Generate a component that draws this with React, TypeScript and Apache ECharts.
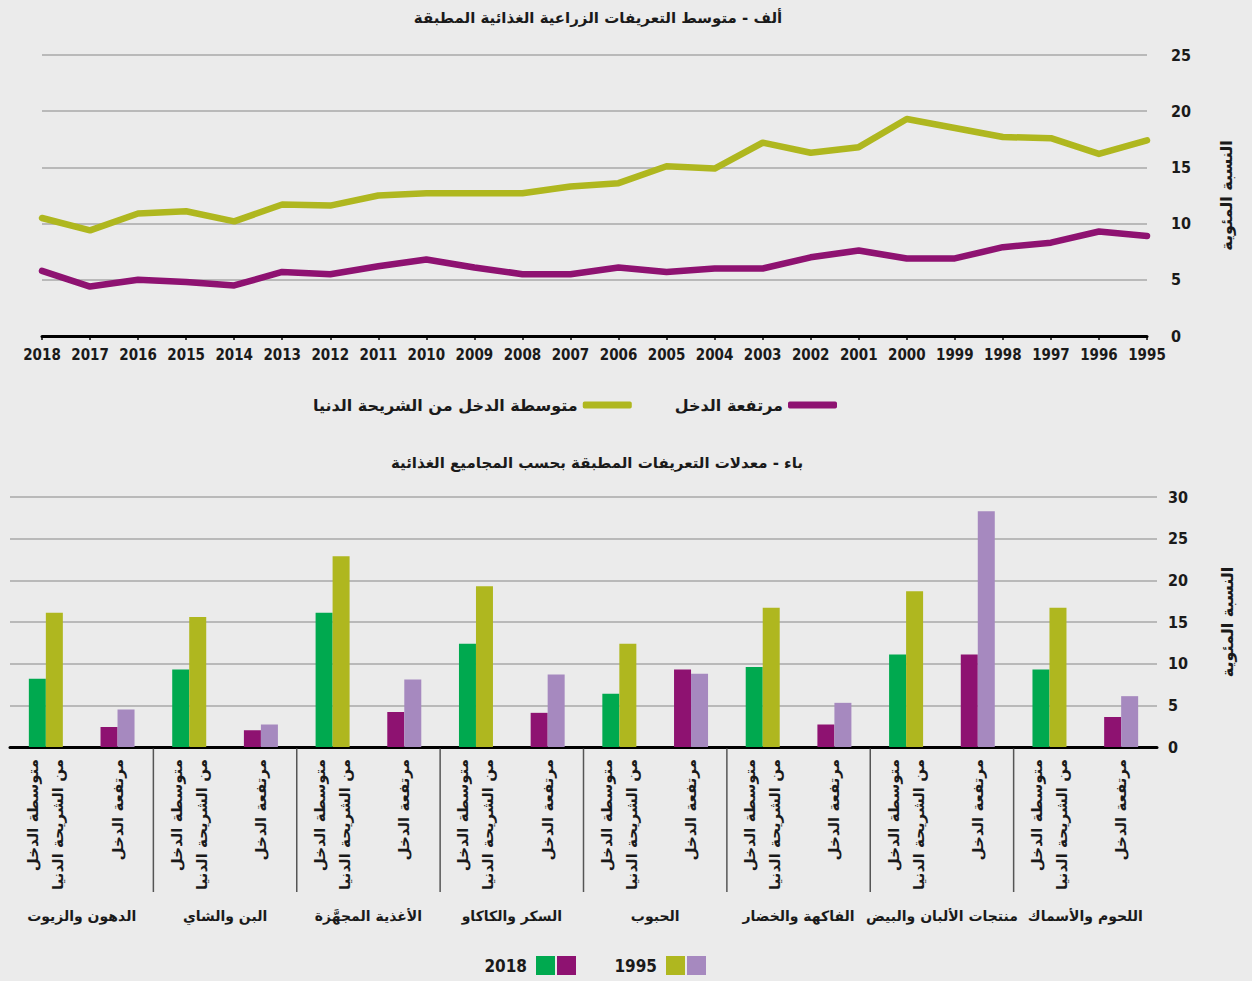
import React, { useEffect, useRef } from 'react';
import * as echarts from 'echarts';

// ---------- Data ----------
const years = ['2018', '2017', '2016', '2015', '2014', '2013', '2012', '2011', '2010', '2009', '2008', '2007', '2006', '2005', '2004', '2003', '2002', '2001', '2000', '1999', '1998', '1997', '1996', '1995'];
const lowerMiddleTariff = [10.5, 9.4, 10.9, 11.1, 10.2, 11.7, 11.6, 12.5, 12.7, 12.7, 12.7, 13.3, 13.6, 15.1, 14.9, 17.2, 16.3, 16.8, 19.3, 18.5, 17.7, 17.6, 16.2, 17.4];
const highTariff = [5.8, 4.4, 5.0, 4.8, 4.5, 5.7, 5.5, 6.2, 6.8, 6.1, 5.5, 5.5, 6.1, 5.7, 6.0, 6.0, 7.0, 7.6, 6.9, 6.9, 7.9, 8.3, 9.3, 8.9];
const lineSeriesNames = ['متوسطة الدخل من الشريحة الدنيا', 'مرتفعة الدخل'];
const lineColors = ['#afb71f', '#8e1271'];

const titleA = 'ألف - متوسط التعريفات الزراعية الغذائية المطبقة';
const titleB = 'باء - معدلات التعريفات المطبقة بحسب المجاميع الغذائية';
const yAxisName = 'النسبة المئوية';

const foodGroups = ['الدهون والزيوت', 'البن والشاي', 'الأغذية المجهَّزة', 'السكر والكاكاو', 'الحبوب', 'الفاكهة والخضار', 'منتجات الألبان والبيض', 'اللحوم والأسماك'];
const incomeLabels = ['متوسطة الدخل\nمن الشريحة الدنيا', 'مرتفعة الدخل'];
const lowerMiddle2018 = [8.2, 9.3, 16.1, 12.4, 6.4, 9.6, 11.1, 9.3];
const lowerMiddle1995 = [16.1, 15.6, 22.9, 19.3, 12.4, 16.7, 18.7, 16.7];
const high2018 = [2.4, 2.0, 4.2, 4.1, 9.3, 2.7, 11.1, 3.6];
const high1995 = [4.5, 2.7, 8.1, 8.7, 8.8, 5.3, 28.3, 6.1];
const barYears = ['2018', '1995'];
const barColors2018 = ['#00a94f', '#8e1271'];
const barColors1995 = ['#afb71f', '#a689bf'];

const topTicks = { min: 0, max: 25, interval: 5 };
const bottomTicks = { min: 0, max: 30, interval: 5 };

// ---------- Styles ----------
const NUM_FONT = '"Liberation Sans Narrow", "DejaVu Sans Condensed", "Liberation Sans", sans-serif';
const AR_FONT = '"DejaVu Sans", sans-serif';
const TEXT = '#1a1a1a';
const GRID_LINE = '#a9a9a9';

export default function App() {
  const ref = useRef<HTMLDivElement>(null);

  useEffect(() => {
    document.body.style.margin = '0';
    if (!ref.current) return;
    const chart = echarts.init(ref.current, null, { renderer: 'svg' });

    const barCategories: string[] = [];
    const data2018: any[] = [];
    const data1995: any[] = [];
    foodGroups.forEach((g, gi) => {
      incomeLabels.forEach((inc, ii) => {
        barCategories.push(g + ' | ' + inc);
        const v18 = ii === 0 ? lowerMiddle2018[gi] : high2018[gi];
        const v95 = ii === 0 ? lowerMiddle1995[gi] : high1995[gi];
        data2018.push({ value: v18, itemStyle: { color: barColors2018[ii] } });
        data1995.push({ value: v95, itemStyle: { color: barColors1995[ii] } });
      });
    });
    const separatorIdx: number[][] = [];
    for (let gi = 1; gi < foodGroups.length; gi++) separatorIdx.push([gi * incomeLabels.length, 0]);

    const legendGraphics: any[] = [];
    const legendTextRight = [527, 657];
    barYears.forEach((y, i) => {
      const xr = legendTextRight[i];
      legendGraphics.push({
        type: 'text', x: xr, y: 966,
        style: { text: y, align: 'right', verticalAlign: 'middle', fill: TEXT, fontSize: 17, fontWeight: 'bold', fontFamily: NUM_FONT },
      });
      const cols = i === 0 ? barColors2018 : barColors1995;
      cols.forEach((c, k) => {
        legendGraphics.push({ type: 'rect', shape: { x: xr + 9 + k * 21, y: 956, width: 19, height: 19 }, style: { fill: c } });
      });
    });

    const option: any = {
      animation: false,
      backgroundColor: '#ebebeb',
      textStyle: { fontFamily: AR_FONT },
      graphic: [
        { type: 'text', x: 598, y: 18, style: { text: titleA, align: 'center', verticalAlign: 'middle', fill: TEXT, fontSize: 15, fontWeight: 'bold', fontFamily: AR_FONT } },
        { type: 'text', x: 597, y: 463, style: { text: titleB, align: 'center', verticalAlign: 'middle', fill: TEXT, fontSize: 15, fontWeight: 'bold', fontFamily: AR_FONT } },
        ...legendGraphics,
      ],
      legend: {
        right: 410,
        top: 392,
        align: 'right',
        itemWidth: 49,
        itemHeight: 7,
        itemGap: 43,
        icon: 'roundRect',
        data: [lineSeriesNames[0], lineSeriesNames[1]],
        textStyle: { fontSize: 16, fontWeight: 'bold', color: TEXT, fontFamily: AR_FONT },
      },
      grid: [
        { left: 42, right: 105, top: 55, bottom: 645 },
        { left: 10, right: 95, top: 497, bottom: 234 },
      ],
      xAxis: [
        {
          gridIndex: 0, type: 'category', boundaryGap: false, data: years,
          axisLine: { lineStyle: { color: '#000', width: 3 } },
          axisTick: { show: true, length: 4, lineStyle: { color: '#000', width: 1.5 } },
          axisLabel: { margin: 11, fontSize: 15, fontWeight: 'bold', color: TEXT, fontFamily: NUM_FONT, interval: 0 },
        },
        {
          gridIndex: 1, type: 'category', data: barCategories,
          axisLine: { lineStyle: { color: '#000', width: 3 } },
          axisTick: { show: false },
          axisLabel: {
            rotate: 90, interval: 0, margin: 12, fontSize: 15, lineHeight: 25, fontWeight: 'bold', color: TEXT, fontFamily: AR_FONT,
            formatter: (_v: string, i: number) => incomeLabels[i % incomeLabels.length],
          },
        },
        {
          gridIndex: 1, type: 'category', data: foodGroups, position: 'bottom',
          axisLine: { show: false }, axisTick: { show: false },
          axisLabel: { interval: 0, margin: 162, fontSize: 14, fontWeight: 'bold', color: TEXT, fontFamily: AR_FONT },
        },
      ],
      yAxis: [
        {
          gridIndex: 0, type: 'value', position: 'right', ...topTicks,
          axisLine: { show: false }, axisTick: { show: false },
          axisLabel: { margin: 24, fontSize: 16, fontWeight: 'bold', color: TEXT, fontFamily: NUM_FONT },
          splitLine: { lineStyle: { color: GRID_LINE, width: 1.5 } },
          name: yAxisName, nameLocation: 'middle', nameGap: 71, nameRotate: 90,
          nameTextStyle: { fontSize: 16, fontWeight: 'bold', color: TEXT, fontFamily: AR_FONT },
        },
        {
          gridIndex: 1, type: 'value', position: 'right', ...bottomTicks,
          axisLine: { show: false }, axisTick: { show: false },
          axisLabel: { margin: 11, fontSize: 16, fontWeight: 'bold', color: TEXT, fontFamily: NUM_FONT },
          splitLine: { lineStyle: { color: GRID_LINE, width: 1.5 } },
          name: yAxisName, nameLocation: 'middle', nameGap: 62, nameRotate: 90,
          nameTextStyle: { fontSize: 16, fontWeight: 'bold', color: TEXT, fontFamily: AR_FONT },
        },
      ],
      series: [
        {
          name: lineSeriesNames[0], type: 'line', xAxisIndex: 0, yAxisIndex: 0, data: lowerMiddleTariff,
          showSymbol: false, symbol: 'none', color: lineColors[0],
          lineStyle: { width: 6.5, cap: 'round', join: 'round', color: lineColors[0] },
          itemStyle: { color: lineColors[0] },
        },
        {
          name: lineSeriesNames[1], type: 'line', xAxisIndex: 0, yAxisIndex: 0, data: highTariff,
          showSymbol: false, symbol: 'none', color: lineColors[1],
          lineStyle: { width: 6.5, cap: 'round', join: 'round', color: lineColors[1] },
          itemStyle: { color: lineColors[1] },
        },
        {
          name: barYears[0], type: 'bar', xAxisIndex: 1, yAxisIndex: 1, data: data2018,
          barWidth: 17, barGap: '0%',
        },
        {
          name: barYears[1], type: 'bar', xAxisIndex: 1, yAxisIndex: 1, data: data1995,
          barWidth: 17, barGap: '0%',
        },
        {
          type: 'custom', xAxisIndex: 1, yAxisIndex: 1, data: separatorIdx, clip: false, silent: true,
          renderItem: (_p: any, api: any) => {
            const pt = api.coord([api.value(0), 0]);
            const w = api.size([1, 0])[0];
            const x = pt[0] - w / 2;
            return {
              type: 'line',
              shape: { x1: x, y1: pt[1] + 1.5, x2: x, y2: pt[1] + 145 },
              style: { stroke: '#555', lineWidth: 1.5 },
            };
          },
        },
      ],
    };

    chart.setOption(option);
    return () => chart.dispose();
  }, []);

  return <div ref={ref} style={{ width: 1252, height: 981 }} />;
}
